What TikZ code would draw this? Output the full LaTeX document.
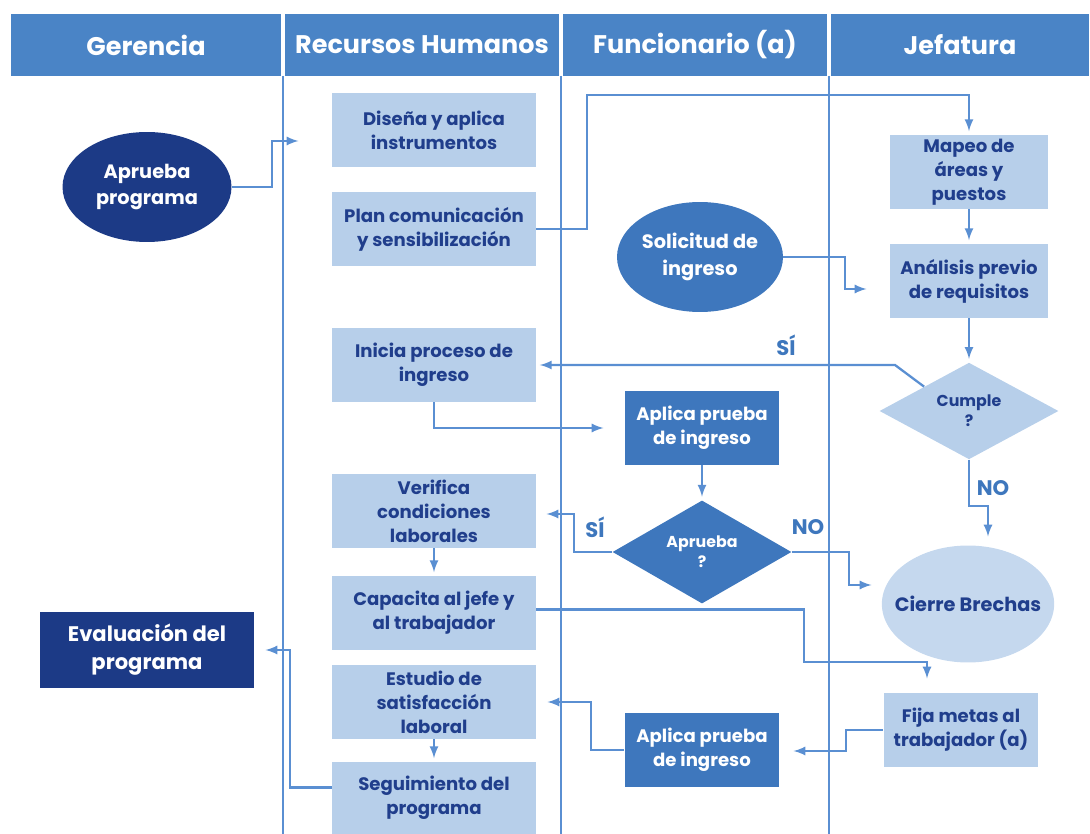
\documentclass[tikz,border=0pt]{standalone}
\usepackage{fontspec}
\setmainfont{Poppins}
\usetikzlibrary{shapes.geometric}

\definecolor{headblue}{HTML}{4A84C6}
\definecolor{laneblue}{HTML}{5A8FD2}
\definecolor{paleblue}{HTML}{B7CFEA}
\definecolor{paleround}{HTML}{C5D8EE}
\definecolor{navyblue}{HTML}{1C3A86}
\definecolor{midblue}{HTML}{3E77BD}
\definecolor{inkblue}{HTML}{203E8C}

\tikzset{
  >=latex,
  headbox/.style={rectangle, fill=headblue, text=white, font=\bfseries\fontsize{14.5}{16}\selectfont, minimum height=1.24cm},
  palebox/.style={rectangle, fill=paleblue, text=inkblue, font=\bfseries\fontsize{10.3}{13.6}\selectfont, align=center, minimum width=4.08cm, minimum height=1.48cm, inner sep=1pt},
  midbox/.style={palebox, fill=midblue, text=white, minimum width=3.1cm},
  navybox/.style={palebox, fill=navyblue, text=white, font=\bfseries\fontsize{12}{16}\selectfont, minimum width=4.3cm, minimum height=1.52cm},
  oval/.style={ellipse, inner sep=0pt, align=center, font=\bfseries\fontsize{11}{15}\selectfont},
  ask/.style={diamond, inner sep=0pt, align=center, font=\bfseries\fontsize{9}{11.5}\selectfont, minimum width=3.58cm, minimum height=1.84cm},
  lane/.style={draw=laneblue, line width=1.2pt},
  flow/.style={draw=laneblue, line width=1.3pt, ->, shorten >=2pt},
  tag/.style={text=midblue, font=\bfseries\fontsize{12}{14}\selectfont}
}

\begin{document}
\begin{tikzpicture}[x=0.02cm, y=-0.02cm]
\useasboundingbox (0,0) rectangle (1090,834);

% carriles
\node[headbox, minimum width=5.42cm] (hger) at (146,45) {Gerencia};
\node[headbox, minimum width=5.50cm] (hrh) at (422,45) {Recursos Humanos};
\node[headbox, minimum width=5.30cm] (hfun) at (695,45) {Funcionario (a)};
\node[headbox, minimum width=5.18cm] (hjef) at (960,45) {Jefatura};
\draw[lane] (283,76) -- (283,834);
\draw[lane] (561,76) -- (561,834);
\draw[lane] (829,76) -- (829,834);

\node[oval, fill=navyblue, text=white, minimum width=3.38cm, minimum height=2.2cm] (apr) at (147,187) {Aprueba\\programa};
\node[navybox] (eva) at (147,650) {Evaluación del\\programa};

\node[palebox] (dis) at (434,130) {Diseña y aplica\\instrumentos};
\node[palebox] (plan) at (434,229) {Plan comunicación\\y sensibilización};
\node[palebox] (ini) at (434,365) {Inicia proceso de\\ingreso};
\node[palebox] (ver) at (434,511) {Verifica\\condiciones\\laborales};
\node[palebox] (cap) at (434,613) {Capacita al jefe y\\al trabajador};
\node[palebox] (est) at (434,702) {Estudio de\\satisfacción\\laboral};
\node[palebox, minimum height=1.44cm] (seg) at (434,798) {Seguimiento del\\programa};

\node[oval, fill=midblue, text=white, minimum width=3.32cm, minimum height=2.2cm] (sol) at (700,257) {Solicitud de\\ingreso};
\node[midbox] (apl) at (702,428) {Aplica prueba\\de ingreso};
\node[ask, fill=midblue, text=white] (apd) at (702,552) {Aprueba\\?};
\node[midbox] (apf) at (702,750) {Aplica prueba\\de ingreso};

\node[palebox, minimum width=3.16cm] (map) at (969,172) {Mapeo de\\áreas y\\puestos};
\node[palebox, minimum width=3.16cm] (ana) at (969,281) {Análisis previo\\de requisitos};
\node[ask, fill=paleblue, text=inkblue] (cum) at (969,411) {Cumple\\?};
\node[oval, fill=paleround, text=inkblue, inner xsep=-7pt, minimum width=3.4cm, minimum height=2.34cm] (cie) at (968,604) {Cierre Brechas};
\node[palebox, minimum width=3.1cm] (fij) at (961,730) {Fija metas al\\trabajador (a)};

\coordinate (aprIn) at (302,141);
\coordinate (planUp) at (587,95);
\coordinate (solIn) at (870,289);
\coordinate (cumBend) at (895,365);
\coordinate (iniIn) at (607,428);
\coordinate (verIn) at (543,514);
\coordinate (cieIn) at (875,585);
\coordinate (cieTop) at (988,540);
\coordinate (capBend) at (804,662);
\coordinate (fijIn) at (927,682);
\coordinate (apfIn) at (790,751);
\coordinate (estIn) at (544,702);
\coordinate (evaIn) at (262,650);

\draw[flow] (apr.east) -- ++(40,0) |- (aprIn);
\draw[flow] (plan.east) -| (planUp) -| (map.north);
\draw[flow] (map) -- (ana);
\draw[flow] (sol.east) -- ++(62,0) |- (solIn);
\draw[flow] (ana) -- (cum);
\draw[flow] (cum.north west) -- (cumBend) -- (ini.east);
\draw[flow] (ini.south) |- (iniIn);
\draw[flow] (apl) -- (apd);
\draw[flow] (apd.west) -- ++(-38,0) |- (verIn);
\draw[flow] (apd.east) -- ++(57,0) |- (cieIn);
\draw[flow] (cum.south) -- ++(0,46) -| (cieTop);
\draw[flow] (ver) -- (cap);
\draw[flow] ([yshift=2pt]cap.east) -| (capBend) -| (fijIn);
\draw[flow] (fij.west) -- ++(-37,0) |- (apfIn);
\draw[flow] (apf.west) -- ++(-33,0) |- (estIn);
\draw[flow] (est) -- (seg);
\draw[flow] ([yshift=6pt]seg.west) -- ++(-42,0) |- (evaIn);

\node[tag] (si1) at (786,345) {SÍ};
\node[tag] (si2) at (595,527) {SÍ};
\node[tag] (no1) at (808,527) {NO};
\node[tag] (no2) at (993,488) {NO};
\end{tikzpicture}
\end{document}
